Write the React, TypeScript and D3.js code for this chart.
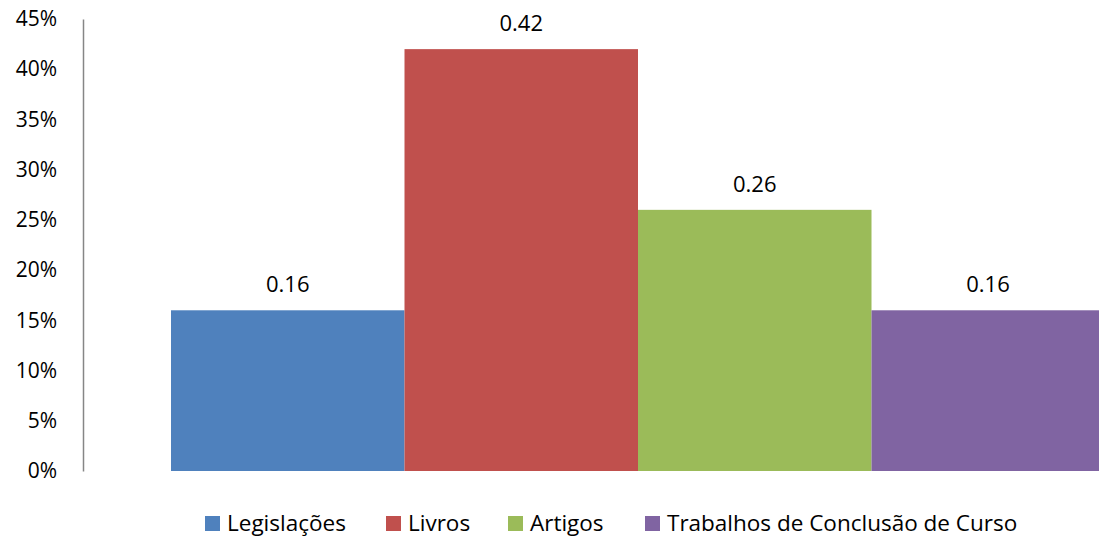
import { useEffect, useRef } from 'react';
import * as d3 from 'd3';

const categories = ['Legislações', 'Livros', 'Artigos', 'Trabalhos de Conclusão de Curso'];
const values = [0.16, 0.42, 0.26, 0.16];
const colors = ['#4f81bd', '#c0504d', '#9bbb59', '#8064a2'];
const yTicks = [0, 0.05, 0.1, 0.15, 0.2, 0.25, 0.3, 0.35, 0.4, 0.45];

const WIDTH = 1099;
const HEIGHT = 537;
const FONT = '"Open Sans", "Noto Sans", sans-serif';

export default function App() {
  const svgRef = useRef<SVGSVGElement>(null);

  useEffect(() => {
    if (!svgRef.current) return;
    const svg = d3.select(svgRef.current);
    svg.selectAll('*').remove();

    // Scales (plot area runs past the right edge, as in the cropped original)
    const x = d3.scaleBand<string>().domain(categories).range([171, 1105]).padding(0);
    const y = d3.scaleLinear().domain([0, 0.45]).range([471, 19]);

    // Y axis
    const yAxis = d3
      .axisLeft(y)
      .tickValues(yTicks)
      .tickSize(0)
      .tickPadding(26)
      .tickFormat((d) => `${Math.round((d as number) * 100)}%`);

    const gy = svg.append('g').attr('transform', 'translate(83,0)').call(yAxis);
    gy.select('.domain').attr('stroke', '#868686').attr('stroke-width', 1.5);
    gy.selectAll('text')
      .attr('fill', '#000')
      .style('font-family', FONT)
      .style('font-size', '21px');

    // Bars
    svg
      .append('g')
      .selectAll('rect')
      .data(values)
      .join('rect')
      .attr('x', (_, i) => x(categories[i]) ?? 0)
      .attr('y', (d) => y(d))
      .attr('width', x.bandwidth())
      .attr('height', (d) => y(0) - y(d))
      .attr('fill', (_, i) => colors[i]);

    // Value labels
    svg
      .append('g')
      .selectAll('text')
      .data(values)
      .join('text')
      .attr('x', (_, i) => Math.min((x(categories[i]) ?? 0) + x.bandwidth() / 2, 988))
      .attr('y', (d) => y(d) - 18)
      .attr('text-anchor', 'middle')
      .style('font-family', FONT)
      .style('font-size', '22px')
      .attr('fill', '#000')
      .text((d) => String(d));

    // Legend
    const legendX = [205, 386, 508, 645];
    const legend = svg
      .append('g')
      .selectAll('g')
      .data(categories)
      .join('g')
      .attr('transform', (_, i) => `translate(${legendX[i]},516)`);

    legend
      .append('rect')
      .attr('width', 15)
      .attr('height', 15)
      .attr('fill', (_, i) => colors[i]);

    legend
      .append('text')
      .attr('x', 22)
      .attr('y', 14.5)
      .style('font-family', FONT)
      .style('font-size', '22.5px')
      .attr('fill', '#000')
      .text((d) => d);
  }, []);

  return (
    <svg
      ref={svgRef}
      width={WIDTH}
      height={HEIGHT}
      style={{ position: 'absolute', left: 0, top: 0, background: '#fff' }}
    />
  );
}
